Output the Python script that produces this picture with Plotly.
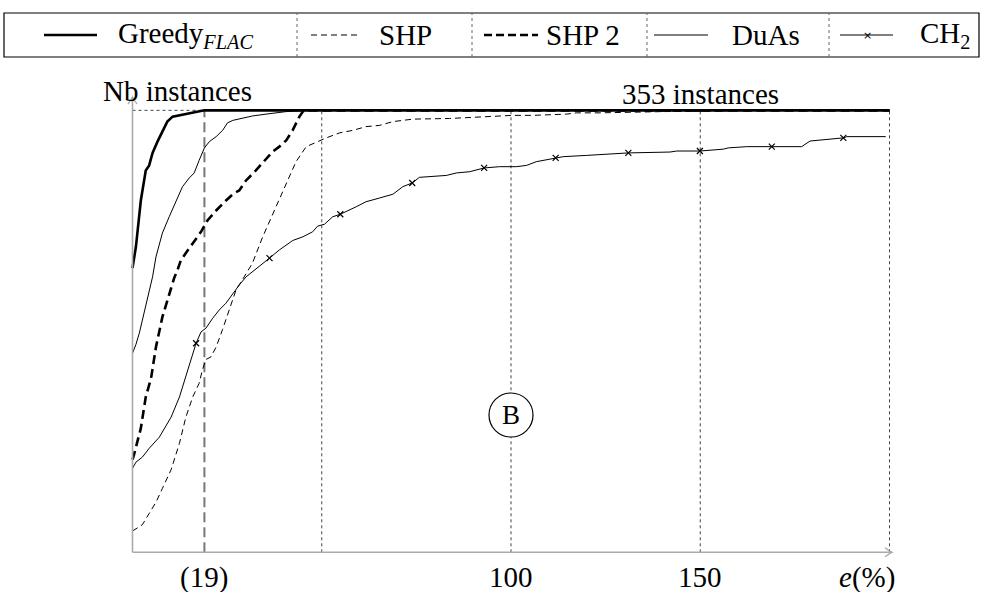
import plotly.graph_objects as go

# ---------------- data ----------------
greedy_x = [0, 0.9, 2.2, 3.5, 4.4, 5.3, 6.6, 7.9, 9.2, 10.6, 12.3, 14.1, 15.4, 17.6, 19, 200]
greedy_y = [227, 244, 281, 305, 309, 319, 328, 336, 344, 348, 349, 350, 351, 352, 353, 353]

duas_x = [0, 0.9, 1.8, 3.1, 4.4, 5.3, 6.2, 7.9, 9.7, 11.5, 13.2, 15, 16.3, 17.6, 19, 20.3,
          22.1, 23.8, 25.1, 26.5, 29.1, 31.7, 35.3, 37.9, 40.6, 44.1, 48, 200]
duas_y = [159, 166, 175, 191, 207, 220, 236, 255, 268, 281, 292, 299, 303, 313, 323, 328,
          332, 337, 343, 345, 347, 348.5, 350, 351, 352, 352.5, 353, 353]

shp2_x = [0, 0.4, 2.2, 3.5, 4.9, 6.2, 7.9, 9.7, 11, 11.9, 12.8, 14.1, 15.9, 18.1, 19.8, 22.1,
          24.7, 26.9, 28.2, 30, 32.6, 34.9, 37, 38.8, 40.6, 42.3, 44.1, 45, 45.5, 200]
shp2_y = [74, 78, 99, 124, 139, 164, 188, 207, 219, 225.5, 233.5, 239, 247, 256, 265, 273,
          281, 287, 289, 297, 305, 313, 320, 324, 329, 337, 348, 352, 353, 353]

shp_x = [0, 2.6, 4.4, 6.2, 7.9, 10.2, 12.4, 14.1, 15.9, 17.6, 18.5, 19.4, 20.7, 22.1, 23.8,
         25.6, 27.4, 28.7, 30, 31.7, 34.4, 37.9, 40.6, 43.2, 45.9, 48.1, 51.2, 54.7, 58.2,
         61.7, 65.3, 68.8, 74.1, 83.8, 92.6, 100.5, 105.8, 114.7, 117.3, 123.5, 140, 170, 200]
shp_y = [17, 22, 31, 40, 51, 66, 87, 108, 124, 135, 146, 154, 156, 164, 178,
         194, 210, 216, 223, 231, 252, 276, 295, 312, 324, 327, 331, 335, 337,
         340, 341, 344, 346, 346.5, 348, 349, 349, 350, 351, 351, 352, 353, 353]

ch2_x = [0, 0.9, 2.6, 4.4, 7.1, 10.2, 12.4, 14.1, 15.4, 16.8, 18.1, 19.4, 21.2, 22.9, 24.7,
         26.5, 28.2, 30, 31.7, 34.4, 36.2, 38.8, 42.3, 45, 47.6, 48.9, 50.7, 52.9, 54.9, 59.1,
         61.7, 65.3, 68.8, 71.4, 73.9, 75.8, 82.9, 85.6, 89.1, 92.9, 97, 101.4, 104.1, 106.7,
         111.8, 113.8, 119.9, 126.1, 131, 142, 143.8, 149.9, 153.4, 156.1, 157.4, 162.3,
         168.9, 176.8, 179, 183.4, 187.8, 188.7, 199]
ch2_y = [67, 72, 76, 83, 92, 108, 124, 140, 154, 167, 176, 179, 187, 193.5, 199,
         207, 213.5, 220, 224, 231, 235, 241.5, 249, 252, 256, 260.5, 262, 268, 270, 276,
         280, 283, 286, 292, 295, 299.5, 301, 303, 304, 307, 308, 308, 309, 312,
         315, 316, 317, 318, 319, 319.7, 320.5, 320.5, 321.3, 322, 323, 324,
         324, 324, 328.5, 330, 331, 332, 332]
ch2_mark_x = [16.8, 36.2, 54.9, 73.9, 92.9, 111.8, 131, 149.9, 168.9, 187.8]
ch2_mark_y = [167, 235, 270, 295, 307, 315, 319, 320.5, 324, 331]

total_instances = 353
grid_x = [50, 100, 150, 200]
marker_line_x = 19
tick_vals = [19, 100, 150]
tick_text = ["(19)", "100", "150"]
legend_names = ["Greedy<sub><i>FLAC</i></sub>", "SHP", "SHP 2", "DuAs", "CH<sub>2</sub>"]

# ---------------- geometry ----------------
W, H = 982, 592
L, R, T, B = 125, 80, 88, 33
PX0, PXS = 132.5, 3.785
PY0, PYS = 552.3, 1.252
x_range = [(L - PX0) / PXS, (W - R - PX0) / PXS]
y_range = [(PY0 - (H - B)) / PYS, (PY0 - T) / PYS]


def px(p):
    return (p - L) / (W - L - R)


def py(p):
    return ((H - B) - p) / (H - T - B)


FONT = "Liberation Serif, Times New Roman, serif"
FS = 29
fig = go.Figure()

# curves
fig.add_trace(go.Scatter(x=shp_x, y=shp_y, mode="lines",
                         line=dict(color="black", width=1, dash="6px,4px")))
fig.add_trace(go.Scatter(x=ch2_x, y=ch2_y, mode="lines",
                         line=dict(color="black", width=1)))
fig.add_trace(go.Scatter(x=ch2_mark_x, y=ch2_mark_y, mode="markers",
                         marker=dict(symbol="x-thin", size=6, line=dict(color="black", width=1.2))))
fig.add_trace(go.Scatter(x=duas_x, y=duas_y, mode="lines",
                         line=dict(color="black", width=1)))
fig.add_trace(go.Scatter(x=shp2_x, y=shp2_y, mode="lines",
                         line=dict(color="black", width=2.6, dash="9px,5px")))
fig.add_trace(go.Scatter(x=greedy_x, y=greedy_y, mode="lines",
                         line=dict(color="black", width=2.6)))

shapes = []
annotations = []

# dotted grid lines
for gx in grid_x:
    shapes.append(dict(type="line", xref="x", yref="y", x0=gx, x1=gx, y0=0, y1=total_instances,
                       line=dict(color="#444", width=1, dash="dot"), layer="below"))
shapes.append(dict(type="line", xref="x", yref="y", x0=0, x1=200, y0=total_instances,
                   y1=total_instances, line=dict(color="#444", width=1, dash="dot"), layer="below"))
# dashed marker line at 19
shapes.append(dict(type="line", xref="x", yref="y", x0=marker_line_x, x1=marker_line_x, y0=0,
                   y1=total_instances, line=dict(color="#777", width=2, dash="10px,5px"), layer="below"))

# axes with open arrow heads
AX_COL = "#aaa"
x_tip = (892 - PX0) / PXS
y_tip = (PY0 - 97) / PYS
hx, hy = 7 / PXS, 4.5 / PYS      # arrow head half-sizes in data units (x-axis)
vx, vy = 4.5 / PXS, 7 / PYS      # arrow head half-sizes (y-axis)
shapes.append(dict(type="line", xref="x", yref="y", x0=0, x1=x_tip, y0=0, y1=0,
                   line=dict(color=AX_COL, width=1.6)))
shapes.append(dict(type="line", xref="x", yref="y", x0=0, x1=0, y0=0, y1=y_tip,
                   line=dict(color=AX_COL, width=1.6)))
shapes.append(dict(type="path", xref="x", yref="y",
                   path=f"M {x_tip - hx},{hy} Q {x_tip - hx * 0.3},{hy * 0.2} {x_tip},0 "
                        f"Q {x_tip - hx * 0.3},{-hy * 0.2} {x_tip - hx},{-hy}",
                   line=dict(color=AX_COL, width=1.3)))
shapes.append(dict(type="path", xref="x", yref="y",
                   path=f"M {-vx},{y_tip - vy} Q {-vx * 0.2},{y_tip - vy * 0.3} 0,{y_tip} "
                        f"Q {vx * 0.2},{y_tip - vy * 0.3} {vx},{y_tip - vy}",
                   line=dict(color=AX_COL, width=1.3)))

# tick labels
for v, t in zip(tick_vals, tick_text):
    annotations.append(dict(x=v, y=py(577), xref="x", yref="paper", text=t, showarrow=False,
                            font=dict(family=FONT, size=FS, color="black"), xanchor="center", yanchor="middle"))
annotations.append(dict(x=(897 - PX0) / PXS, y=py(577), xref="x", yref="paper", text="<i>e</i>(%)",
                        showarrow=False, font=dict(family=FONT, size=FS, color="black"),
                        xanchor="right", yanchor="middle"))

# axis titles
annotations.append(dict(x=(177 - PX0) / PXS, y=py(91), xref="x", yref="paper", text="Nb instances",
                        showarrow=False, font=dict(family=FONT, size=FS, color="black"),
                        xanchor="center", yanchor="middle"))
annotations.append(dict(x=150, y=py(94), xref="x", yref="paper", text=f"{total_instances} instances",
                        showarrow=False, font=dict(family=FONT, size=FS, color="black"),
                        xanchor="center", yanchor="middle"))

# circled B
bx, by = 100, (PY0 - 415) / PYS
rx, ry = 22 / PXS, 22 / PYS
shapes.append(dict(type="circle", xref="x", yref="y", x0=bx - rx, x1=bx + rx, y0=by - ry, y1=by + ry,
                   line=dict(color="black", width=1.2), fillcolor="white", layer="above"))
annotations.append(dict(x=bx, y=by, xref="x", yref="y", text="B", showarrow=False,
                        font=dict(family=FONT, size=27, color="black"), xanchor="center", yanchor="middle"))

# legend box
LY = 35
shapes.append(dict(type="rect", xref="paper", yref="paper", x0=px(4), x1=px(979), y0=py(57), y1=py(13),
                   line=dict(color="black", width=1.2)))
for sx in [297, 472, 647, 829]:
    shapes.append(dict(type="line", xref="paper", yref="paper", x0=px(sx), x1=px(sx), y0=py(57), y1=py(13),
                       line=dict(color="#666", width=1, dash="dot")))
leg_lines = [(44, 97, 2.6, "solid"), (311, 358, 1, "6px,4px"), (484, 538, 2.6, "8px,4px"),
             (654, 708, 1, "solid"), (840, 893, 1, "solid")]
leg_text_x = [116, 377, 544, 730, 918]
for (a, b, w, d), tx, name in zip(leg_lines, leg_text_x, legend_names):
    shapes.append(dict(type="line", xref="paper", yref="paper", x0=px(a), x1=px(b), y0=py(LY), y1=py(LY),
                       line=dict(color="black", width=w, dash=d)))
    annotations.append(dict(x=px(tx), y=py(LY), xref="paper", yref="paper", text=name, showarrow=False,
                            font=dict(family=FONT, size=FS, color="black"), xanchor="left", yanchor="middle"))
annotations.append(dict(x=px(867), y=py(LY), xref="paper", yref="paper", text="×", showarrow=False,
                        font=dict(family="DejaVu Sans", size=11, color="black"), xanchor="center", yanchor="middle"))

fig.update_layout(
    width=W, height=H,
    margin=dict(l=L, r=R, t=T, b=B, pad=0),
    paper_bgcolor="white", plot_bgcolor="white",
    showlegend=False,
    xaxis=dict(range=x_range, visible=False, fixedrange=True),
    yaxis=dict(range=y_range, visible=False, fixedrange=True),
    shapes=shapes, annotations=annotations,
    font=dict(family=FONT, color="black"),
)

fig.write_html("out.html", config={"displayModeBar": False},
               post_script="document.body.style.margin='0';document.body.style.padding='0';")
